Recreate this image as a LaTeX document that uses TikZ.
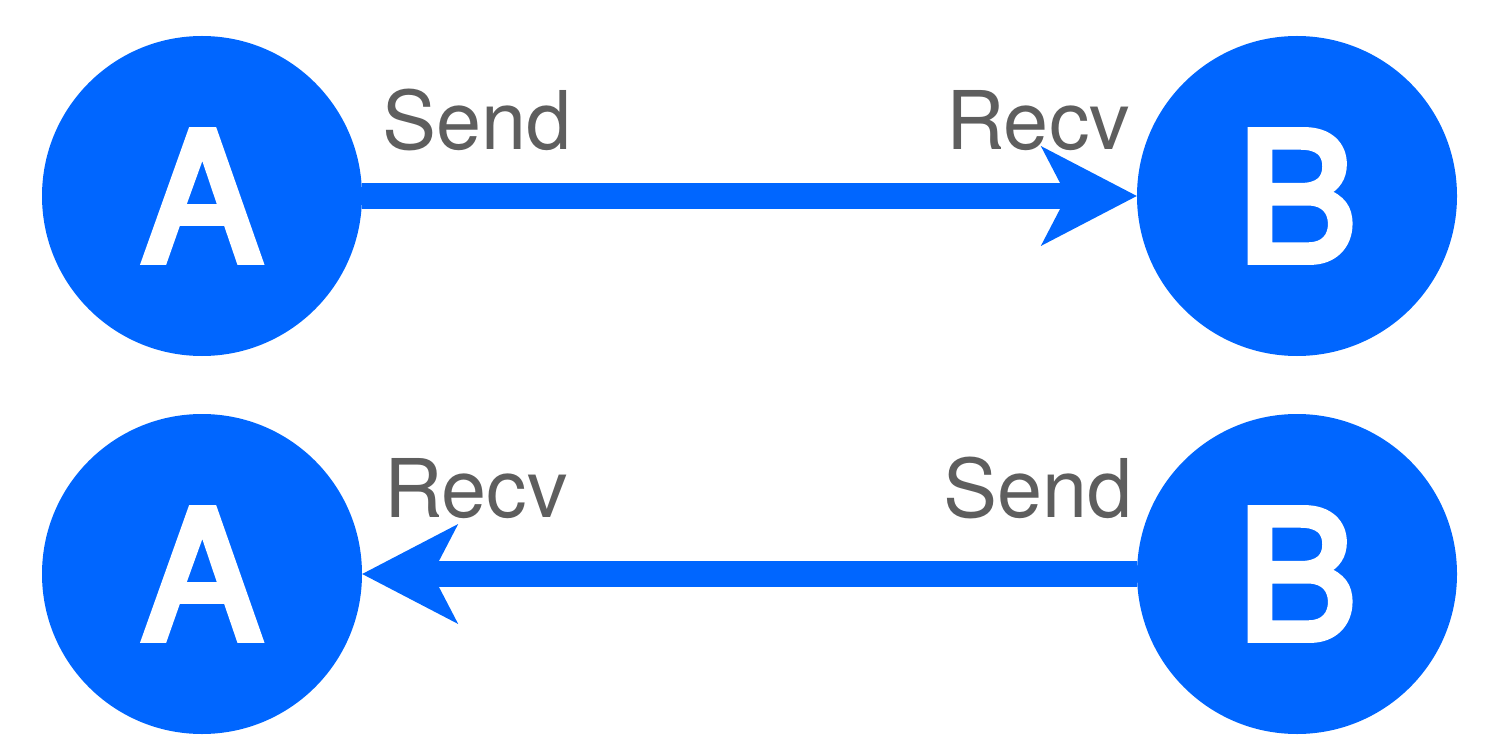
\documentclass[tikz,border=0pt]{standalone}
\usepackage{fontspec}
\setmainfont{TeX Gyre Heros}
\newfontfamily\peerfont[FakeBold=4.5]{TeX Gyre Heros}
\usetikzlibrary{arrows.meta}
\definecolor{nodeblue}{HTML}{0066FF}
\definecolor{labelgray}{HTML}{5E5E5E}
\begin{document}
\begin{tikzpicture}[x=1pt,y=-1pt,
  peer/.style={circle,fill=nodeblue,minimum size=320pt,inner sep=0pt,
    text=white,font=\peerfont\fontsize{178}{178}\selectfont},
  link/.style={draw=nodeblue,line width=26pt,
    -{Stealth[length=96pt,width=100pt,inset=26pt,line width=0pt]}},
  tag/.style={text=labelgray,font=\fontsize{81}{81}\selectfont,inner sep=0pt}]
\useasboundingbox (0,0) rectangle (1485,751);

% upper row: A sends to B
\node[peer] (a1) at (202,196) {A};
\node[peer] (b1) at (1297,196) {B};
\draw[link] (a1) -- (b1);
\node[tag,anchor=base west] (s1) at (382,150) {Send};
\node[tag,anchor=base west] (r1) at (946,150) {Recv};

% lower row: B sends to A
\node[peer] (a2) at (202,574) {A};
\node[peer] (b2) at (1297,574) {B};
\draw[link] (b2) -- (a2);
\node[tag,anchor=base west] (r2) at (384,517) {Recv};
\node[tag,anchor=base west] (s2) at (943,517) {Send};
\end{tikzpicture}
\end{document}
